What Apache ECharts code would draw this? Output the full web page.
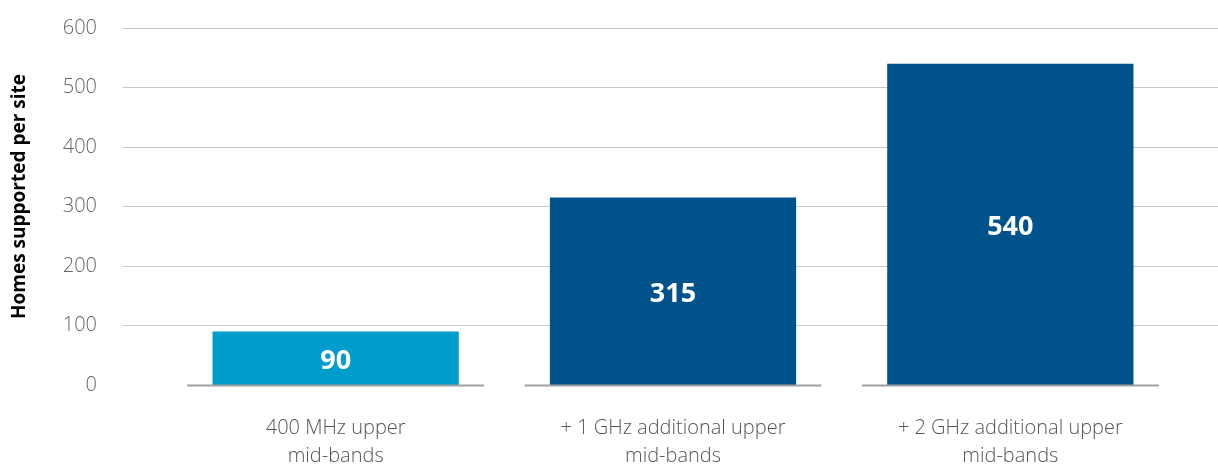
<!DOCTYPE html>
<html>
<head>
<meta charset="utf-8">
<script src="https://cdn.jsdelivr.net/npm/echarts@6/dist/echarts.min.js"></script>
<style>
  html, body { margin: 0; padding: 0; background: #fff; }
  #chart { width: 1218px; height: 466px; }
</style>
</head>
<body>
<div id="chart"></div>
<script>
// 数据
var categories = ['400 MHz upper\nmid-bands', '+ 1 GHz additional upper\nmid-bands', '+ 2 GHz additional upper\nmid-bands'];
var homes = [90, 315, 540];
var barColors = ['#009dcc', '#00538a', '#00538a'];
var yTicks = [0, 100, 200, 300, 400, 500, 600];

var chart = echarts.init(document.getElementById('chart'));

var option = {
    animation: false,
    textStyle: { fontFamily: 'Open Sans' },
    grid: [
        // 网格线用
        { left: 123, right: 0, top: 28, bottom: 81, outerBoundsMode: 'none' },
        // 柱子用
        { left: 167, right: 39, top: 28, bottom: 81, outerBoundsMode: 'none' }
    ],
    xAxis: [
        { gridIndex: 0, type: 'value', min: 0, max: 1, show: false },
        {
            gridIndex: 1,
            type: 'category',
            data: categories,
            axisLine: { show: false },
            axisTick: { show: false },
            axisLabel: {
                color: '#555',
                fontSize: 20,
                fontWeight: 300,
                lineHeight: 28,
                margin: 29
            }
        }
    ],
    yAxis: [
        {
            gridIndex: 0,
            type: 'value',
            min: yTicks[0],
            max: yTicks[yTicks.length - 1],
            interval: 100,
            name: 'Homes supported per site',
            nameLocation: 'middle',
            nameGap: 94,
            nameTextStyle: { color: '#000', fontSize: 19, fontWeight: 'bold', padding: [0, 0, 0, 20] },
            axisLine: { show: false },
            axisTick: { show: false },
            axisLabel: { color: '#666', fontSize: 20, fontWeight: 300, margin: 26 },
            splitLine: { showMinLine: false, lineStyle: { color: '#c8c8c8', width: 1 } }
        },
        {
            gridIndex: 1,
            type: 'value',
            min: yTicks[0],
            max: yTicks[yTicks.length - 1],
            interval: 100,
            show: false,
            splitLine: { show: false }
        }
    ],
    series: [
        {
            type: 'bar',
            xAxisIndex: 1,
            yAxisIndex: 1,
            barWidth: '73%',
            data: homes.map(function (v, i) {
                return { value: v, itemStyle: { color: barColors[i] } };
            }),
            label: {
                show: true,
                position: 'inside',
                offset: [0, 3],
                color: '#fff',
                fontSize: 27,
                fontWeight: 'bold'
            },
            z: 2
        },
        {
            // 每个类别下的底线
            type: 'custom',
            xAxisIndex: 1,
            yAxisIndex: 1,
            data: homes.map(function (v, i) { return [i, 0]; }),
            renderItem: function (params, api) {
                var p = api.coord([api.value(0), 0]);
                var bw = api.size([1, 0])[0];
                return {
                    type: 'line',
                    shape: { x1: p[0] - bw * 0.44, y1: p[1] + 0.5, x2: p[0] + bw * 0.44, y2: p[1] + 0.5 },
                    style: { stroke: '#a0a0a0', lineWidth: 2 }
                };
            },
            z: 3
        }
    ]
};

chart.setOption(option);
</script>
</body>
</html>
